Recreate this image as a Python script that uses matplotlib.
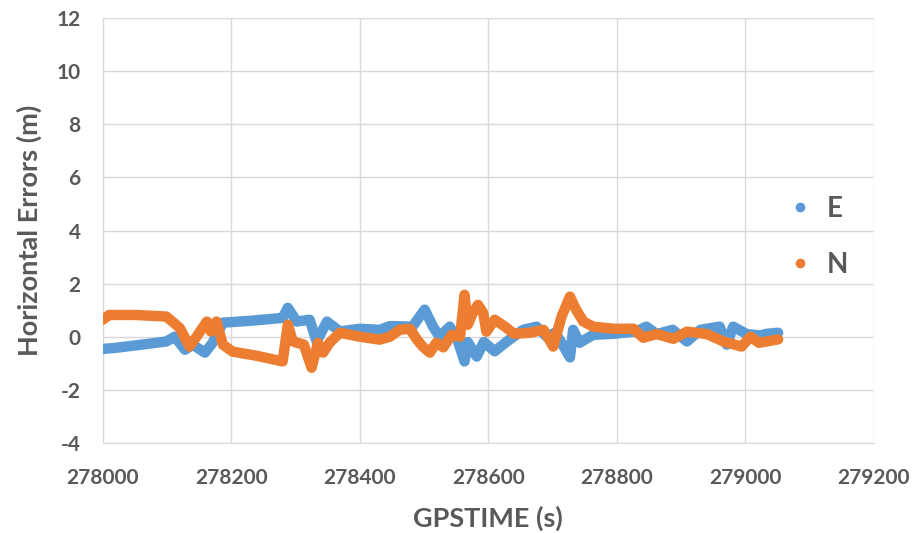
import numpy as np
import matplotlib.pyplot as plt
from matplotlib.lines import Line2D

# valores (GPSTIME em s, erro em m)
t_e = [278000, 278020, 278060, 278099, 278112, 278128, 278140, 278159, 278171, 278187,
       278230, 278280, 278288, 278302, 278322, 278333, 278349, 278369, 278400, 278431,
       278447, 278482, 278501, 278514, 278524, 278540, 278551, 278563, 278568, 278582,
       278593, 278610, 278629, 278654, 278675, 278691, 278704, 278714, 278727, 278732,
       278742, 278763, 278795, 278830, 278846, 278862, 278887, 278909, 278930, 278960,
       278971, 278981, 279002, 279023, 279033, 279051]
e_err = [-0.46, -0.42, -0.30, -0.18, 0.00, -0.49, -0.30, -0.60, -0.23, 0.53,
         0.60, 0.71, 1.09, 0.57, 0.64, -0.18, 0.57, 0.20, 0.30, 0.26,
         0.40, 0.38, 1.02, 0.38, 0.00, 0.38, -0.04, -0.93, -0.20, -0.75,
         -0.20, -0.55, -0.18, 0.26, 0.38, 0.00, 0.15, -0.23, -0.78, 0.26,
         -0.23, 0.07, 0.11, 0.20, 0.38, 0.10, 0.26, -0.18, 0.26, 0.38,
         -0.30, 0.38, 0.10, 0.05, 0.11, 0.15]

t_n = [278000, 278010, 278050, 278099, 278120, 278135, 278146, 278162, 278168, 278177,
       278187, 278202, 278240, 278280, 278288, 278296, 278313, 278325, 278335, 278343,
       278353, 278369, 278400, 278431, 278447, 278462, 278478, 278489, 278498, 278509,
       278519, 278530, 278543, 278556, 278563, 278568, 278576, 278584, 278592, 278597,
       278610, 278626, 278640, 278665, 278686, 278701, 278714, 278727, 278737, 278748,
       278763, 278795, 278826, 278841, 278862, 278888, 278909, 278940, 278966, 278994,
       279008, 279021, 279051]
n_err = [0.64, 0.82, 0.82, 0.76, 0.33, -0.37, 0.00, 0.57, 0.20, 0.57,
         -0.30, -0.56, -0.72, -0.93, 0.45, -0.18, -0.30, -1.17, -0.23, -0.60,
         -0.23, 0.15, 0.00, -0.11, 0.00, 0.26, 0.30, -0.11, -0.37, -0.60,
         -0.23, -0.40, 0.07, 0.00, 1.58, 0.45, 0.90, 1.20, 0.90, 0.19,
         0.64, 0.38, 0.11, 0.15, 0.26, -0.37, 0.76, 1.51, 1.00, 0.57,
         0.38, 0.30, 0.30, -0.04, 0.10, -0.08, 0.19, 0.10, -0.18, -0.37,
         0.00, -0.23, -0.10]

azul = '#5B9BD5'
laranja = '#ED7D31'
cinza = '#595959'

plt.rcParams['font.family'] = ['Lato', 'DejaVu Sans']
plt.rcParams['axes.unicode_minus'] = False

fig = plt.figure(figsize=(9.17, 5.33), dpi=100)
ax = fig.add_axes([0.112, 0.169, 0.841, 0.797])

ax.plot(t_e, e_err, color=azul, lw=7.5, solid_capstyle='round', solid_joinstyle='round', zorder=3)
ax.plot(t_n, n_err, color=laranja, lw=7.5, solid_capstyle='round', solid_joinstyle='round', zorder=4)

ax.set_xlim(278000, 279200)
ax.set_ylim(-4, 12)
ax.set_xticks(np.arange(278000, 279201, 200))
ax.set_yticks(np.arange(-4, 13, 2))
ax.grid(True, color='#d9d9d9', lw=1)
ax.set_axisbelow(True)

for s in ['top', 'right']:
    ax.spines[s].set_visible(False)
for s in ['left', 'bottom']:
    ax.spines[s].set_color('#d9d9d9')
ax.tick_params(length=0, labelsize=15, labelcolor=cinza)
ax.tick_params(axis='x', pad=18)
ax.tick_params(axis='y', pad=16)
for lab in ax.get_xticklabels() + ax.get_yticklabels():
    lab.set_fontweight('bold')

ax.set_xlabel('GPSTIME (s)', fontsize=19.5, fontweight='bold', color=cinza, labelpad=13)
ax.set_ylabel('Horizontal Errors (m)', fontsize=19.5, fontweight='bold', color=cinza, labelpad=10)

handles = [Line2D([], [], ls='', marker='o', ms=6, color=azul),
           Line2D([], [], ls='', marker='o', ms=6, color=laranja)]
leg = ax.legend(handles, ['E', 'N'], loc='center left', bbox_to_anchor=(0.845, 0.485),
                frameon=False, handletextpad=0.2, labelspacing=1.1, handlelength=1.5,
                prop={'size': 20, 'weight': 'bold'})
for txt in leg.get_texts():
    txt.set_color(cinza)

plt.savefig('out.png', dpi=100)
